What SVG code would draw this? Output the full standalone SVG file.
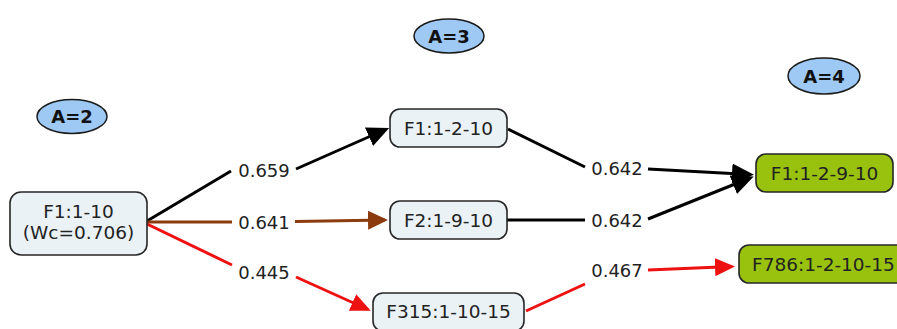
<svg xmlns="http://www.w3.org/2000/svg" width="897" height="329" viewBox="0 0 897 329">
  <style>
    .lvl { fill: #9ec9f5; stroke: #1a1a1a; stroke-width: 1.5; }
    .lvl-t { font-family: "DejaVu Sans", Verdana, sans-serif; font-size: 18px; font-weight: bold; fill: #111; text-anchor: middle; }
    .box { fill: #eaf2f6; stroke: #262626; stroke-width: 1.6; }
    .box-g { fill: #98c20e; stroke: #262626; stroke-width: 1.6; }
    .nt { font-family: "DejaVu Sans", Verdana, sans-serif; font-size: 18.5px; fill: #222; text-anchor: middle; }
    .el { font-family: "DejaVu Sans", Verdana, sans-serif; font-size: 18px; fill: #222; text-anchor: middle; }
    .c { fill: none; stroke-width: 3; stroke-linecap: butt; }
    .k { stroke: #000; }
    .b { stroke: #8b3b0e; }
    .r { stroke: #ee1111; }
  </style>
  <defs>
    <marker id="ah-k" markerUnits="userSpaceOnUse" markerWidth="22" markerHeight="20" viewBox="0 0 22 20" refX="18" refY="10" orient="auto">
      <path d="M0,0 L22,10 L0,20 Z" fill="#000"/>
    </marker>
    <marker id="ah-b" markerUnits="userSpaceOnUse" markerWidth="20" markerHeight="19" viewBox="0 0 20 19" refX="17" refY="9.5" orient="auto">
      <path d="M0,0 L20,9.5 L0,19 Z" fill="#8b3b0e"/>
    </marker>
    <marker id="ah-r" markerUnits="userSpaceOnUse" markerWidth="20" markerHeight="18" viewBox="0 0 20 18" refX="17" refY="9" orient="auto">
      <path d="M0,0 L20,9 L0,18 Z" fill="#ee1111"/>
    </marker>
  </defs>

  <!-- level markers -->
  <g id="level-2">
    <ellipse class="lvl" cx="72" cy="116.5" rx="35" ry="17"/>
    <text class="lvl-t" x="72" y="123">A=2</text>
  </g>
  <g id="level-3">
    <ellipse class="lvl" cx="449" cy="36" rx="35" ry="17"/>
    <text class="lvl-t" x="449" y="42.5">A=3</text>
  </g>
  <g id="level-4">
    <ellipse class="lvl" cx="824" cy="76" rx="36" ry="18"/>
    <text class="lvl-t" x="824" y="82.5">A=4</text>
  </g>

  <!-- connectors -->
  <g id="connectors">
    <path class="c k" d="M147,221 L231,171"/>
    <path class="c k" d="M296,169 L385.5,129.5" marker-end="url(#ah-k)"/>
    <text class="el" x="264" y="176.5">0.659</text>

    <path class="c b" d="M147,222 L232,222"/>
    <path class="c b" d="M295,221.5 L385,220" marker-end="url(#ah-b)"/>
    <text class="el" x="264" y="228.5">0.641</text>

    <path class="c r" d="M147,224 L232,265"/>
    <path class="c r" d="M296,277 L368,309.5" marker-end="url(#ah-r)"/>
    <text class="el" x="264" y="279">0.445</text>

    <path class="c k" d="M508,129 L585,167"/>
    <path class="c k" d="M648,169 L750,174.5" marker-end="url(#ah-k)"/>
    <text class="el" x="617" y="174.5">0.642</text>

    <path class="c k" d="M507,220 L585,220"/>
    <path class="c k" d="M648,219 L750,178" marker-end="url(#ah-k)"/>
    <text class="el" x="617" y="226.5">0.642</text>

    <path class="c r" d="M526,311 L585,284"/>
    <path class="c r" d="M648,270 L732,266.5" marker-end="url(#ah-r)"/>
    <text class="el" x="617" y="276.5">0.467</text>
  </g>

  <!-- nodes -->
  <g id="n-f1-1-10">
    <rect class="box" x="10" y="192" width="137" height="63" rx="11"/>
    <text class="nt" x="78.5" y="218">F1:1-10</text>
    <text class="nt" x="78.5" y="238.5">(Wc=0.706)</text>
  </g>
  <g id="n-f1-1-2-10">
    <rect class="box" x="390" y="109" width="117" height="38" rx="10"/>
    <text class="nt" x="448.5" y="134.5">F1:1-2-10</text>
  </g>
  <g id="n-f2-1-9-10">
    <rect class="box" x="390" y="201" width="117" height="38" rx="10"/>
    <text class="nt" x="448.5" y="226.5">F2:1-9-10</text>
  </g>
  <g id="n-f315-1-10-15">
    <rect class="box" x="373" y="293" width="151" height="38" rx="10"/>
    <text class="nt" x="448.5" y="317.5">F315:1-10-15</text>
  </g>
  <g id="n-f1-1-2-9-10">
    <rect class="box-g" x="756" y="154" width="137" height="38" rx="10"/>
    <text class="nt" x="824.5" y="179.5">F1:1-2-9-10</text>
  </g>
  <g id="n-f786-1-2-10-15">
    <rect class="box-g" x="739" y="245" width="172" height="38" rx="10"/>
    <text class="nt" x="752" y="270.5" style="text-anchor:start">F786:1-2-10-15</text>
  </g>
</svg>
